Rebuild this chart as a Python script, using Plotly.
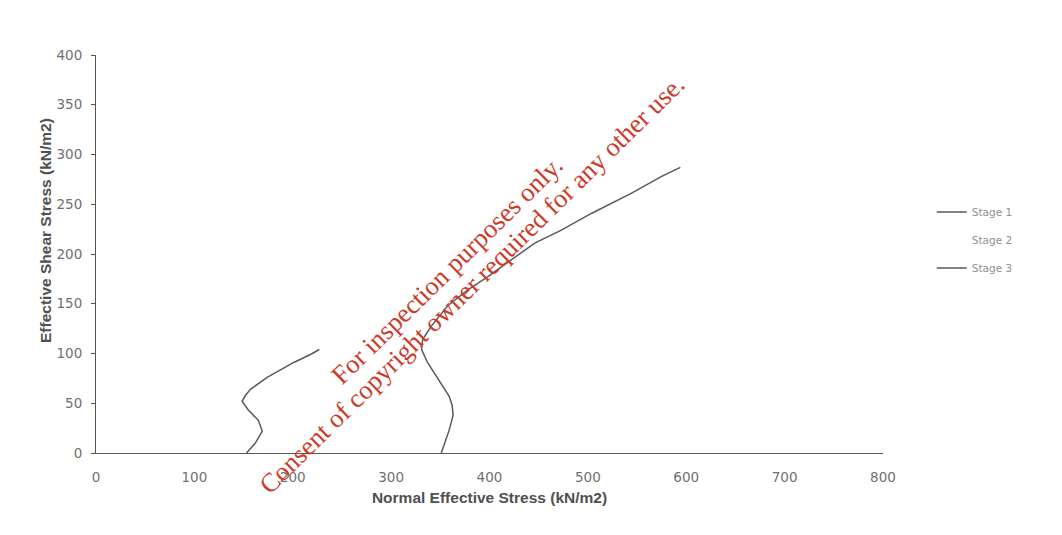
import plotly.graph_objects as go

# Data
stage1_normal = [153, 162, 169, 165, 155, 148.5, 152, 157, 174, 201, 218, 227]
stage1_shear = [0, 10, 22, 33, 43, 52, 58, 64, 76, 91, 99, 104]

stage2_normal = [None]
stage2_shear = [None]

stage3_normal = [351, 355, 359, 363, 362, 359, 349, 337, 331, 332, 340.5, 357.5, 378, 398, 422, 446, 473, 504, 544, 575, 594]
stage3_shear = [0, 12, 23, 38, 48, 57, 73, 91, 104, 114, 127, 148, 164, 177, 194, 211, 224, 241, 261, 278, 287]

x_ticks = [0, 100, 200, 300, 400, 500, 600, 700, 800]
y_ticks = [0, 50, 100, 150, 200, 250, 300, 350, 400]

watermark_lines = ["For inspection purposes only.",
                   "Consent of copyright owner required for any other use."]

line_col = "#5a5a5a"
axis_col = "#555555"
tick_font = dict(family="DejaVu Sans, sans-serif", size=13.5, color="#707070")
title_font = dict(family="Liberation Sans, Arial, sans-serif", size=15.5, color="#505050")

fig = go.Figure()
fig.add_trace(go.Scatter(x=stage1_normal, y=stage1_shear, mode="lines", name="Stage 1",
                         line=dict(color=line_col, width=1.5), legendgroup="g1"))
fig.add_trace(go.Scatter(x=stage2_normal, y=stage2_shear, mode="lines", name="Stage 2",
                         line=dict(color="rgba(255,255,255,0)", width=1.5), legendgroup="g2"))
fig.add_trace(go.Scatter(x=stage3_normal, y=stage3_shear, mode="lines", name="Stage 3",
                         line=dict(color=line_col, width=1.5), legendgroup="g3"))

fig.update_layout(
    width=1062, height=535,
    margin=dict(l=88, r=187, t=47, b=90),
    paper_bgcolor="white", plot_bgcolor="white",
    showlegend=True,
    legend=dict(x=1.062, y=0.642, xanchor="left", yanchor="top",
                font=dict(family="DejaVu Sans, sans-serif", size=10.5, color="#909090"),
                traceorder="grouped", tracegroupgap=9, itemwidth=30,
                bgcolor="rgba(0,0,0,0)"),
    xaxis=dict(range=[0, 800], tickvals=x_ticks, ticktext=[str(v) for v in x_ticks],
               showgrid=False, zeroline=False, showline=True, linecolor=axis_col, linewidth=1,
               ticks="", tickfont=tick_font, ticklabelstandoff=12,
               title=dict(text="<b>Normal Effective Stress (kN/m2)</b>", standoff=7,
                          font=title_font)),
    yaxis=dict(range=[0, 400], tickvals=y_ticks, ticktext=[str(v) for v in y_ticks],
               showgrid=False, zeroline=False, showline=True, linecolor=axis_col, linewidth=1,
               ticks="outside", ticklen=4, tickcolor=axis_col, tickfont=tick_font,
               ticklabelstandoff=6),
    annotations=[
        dict(text="<b>Effective Shear Stress (kN/m2)</b>", xref="paper", yref="paper",
             x=-0.065, y=0.56, xanchor="center", yanchor="middle", textangle=-90, showarrow=False,
             font=title_font),
        dict(text=watermark_lines[0], xref="paper", yref="paper", x=0.446, y=0.46,
             xanchor="center", yanchor="middle", textangle=-44.5, showarrow=False,
             font=dict(family="Liberation Serif, Times New Roman, serif", size=26.5, color="#cc3a2a")),
        dict(text=watermark_lines[1], xref="paper", yref="paper", x=0.478, y=0.424,
             xanchor="center", yanchor="middle", textangle=-44.5, showarrow=False,
             font=dict(family="Liberation Serif, Times New Roman, serif", size=26.5, color="#cc3a2a")),
    ],
)

fig.write_html("out.html")
